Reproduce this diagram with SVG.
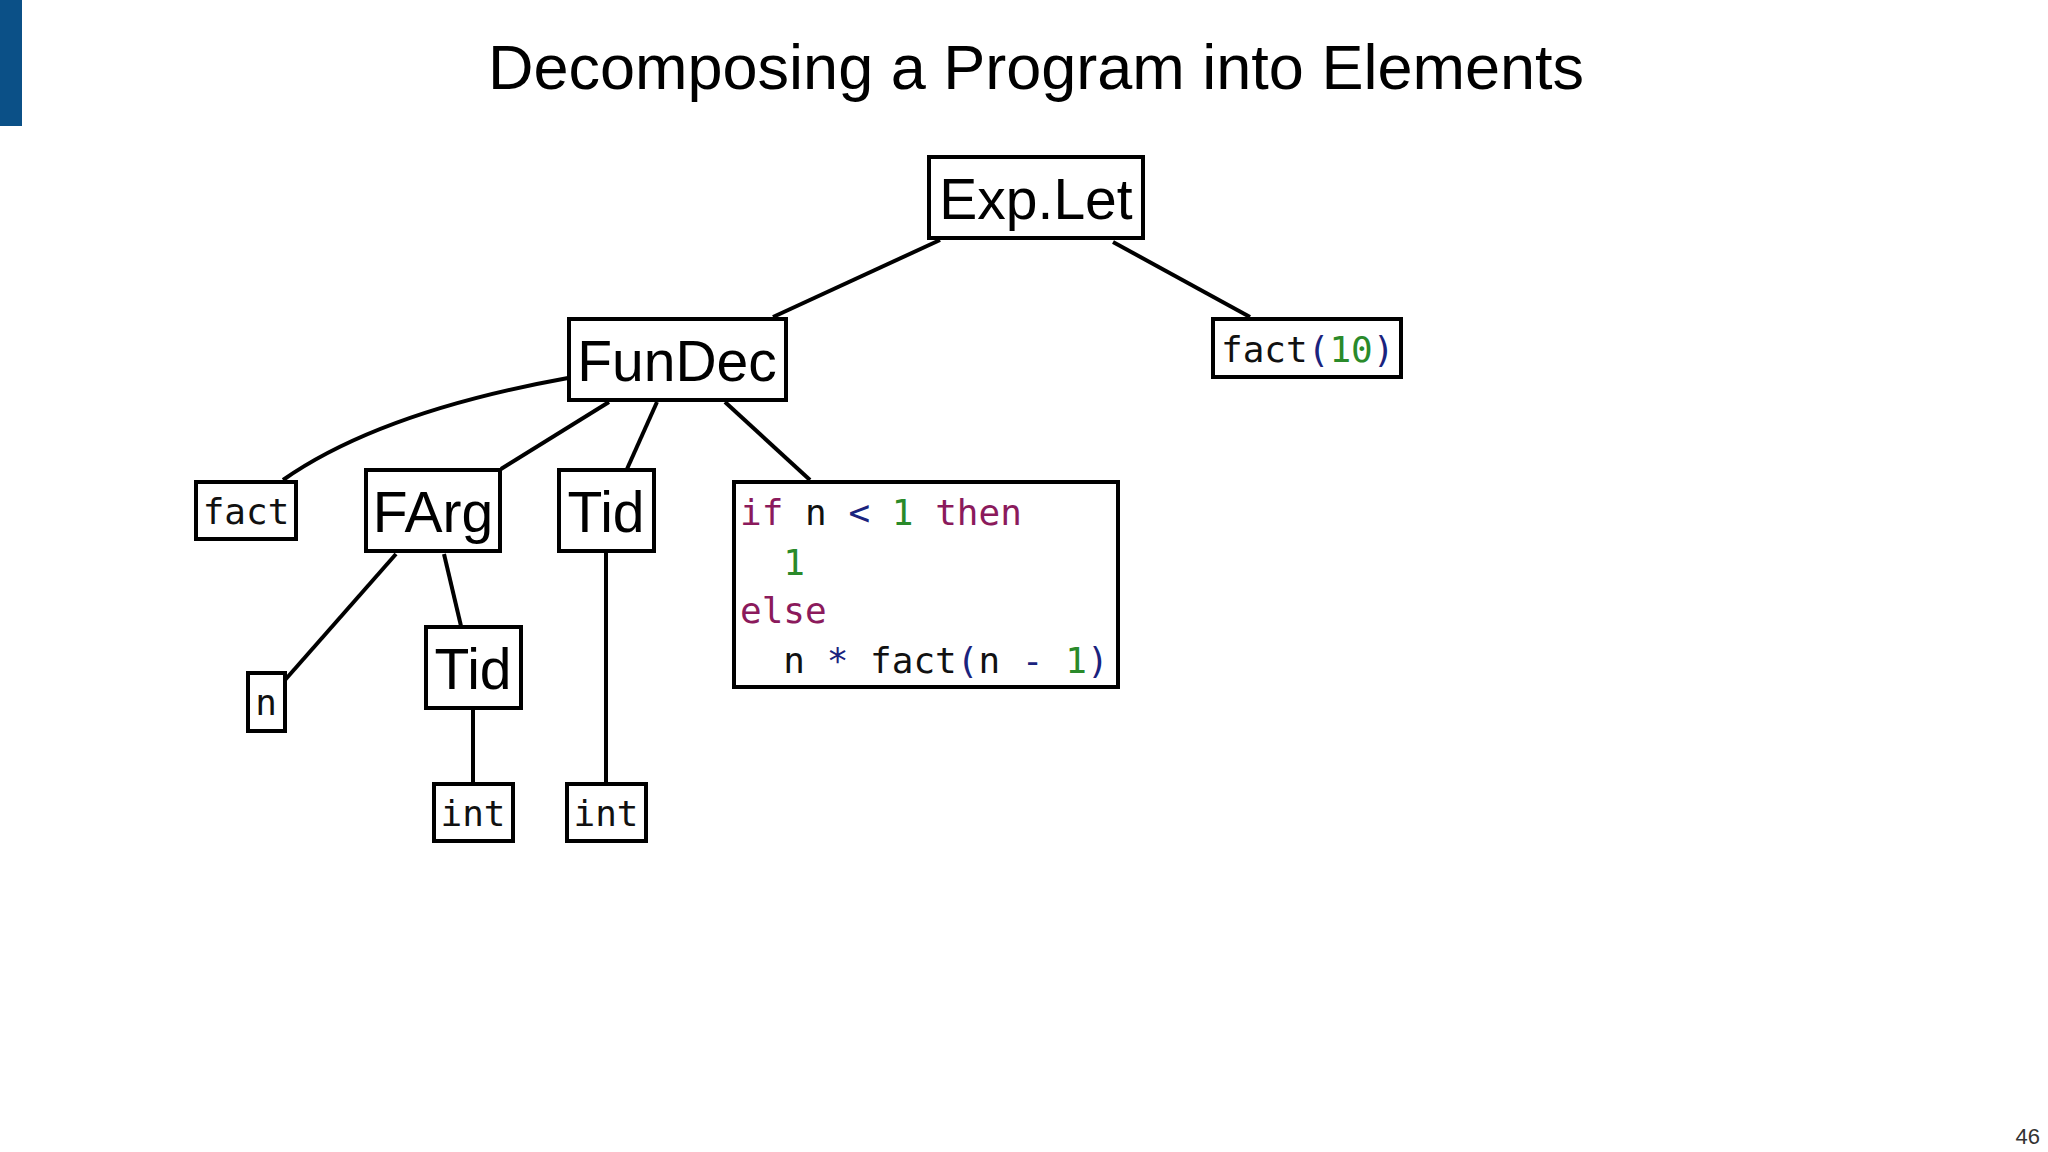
<svg xmlns="http://www.w3.org/2000/svg" width="2048" height="1152" viewBox="0 0 2048 1152">
<style>
.box{fill:#fff;stroke:#000;stroke-width:4}
.big{font-family:"Liberation Sans",Arial,sans-serif;font-size:57px;fill:#000;text-anchor:middle}
.mono{font-family:"DejaVu Sans Mono",monospace;font-size:36px;fill:#111}
.kw{fill:#8b1a5c}.num{fill:#2a8a2a}.op{fill:#1a237e}
.c{stroke:#000;stroke-width:4;fill:none}
</style>
<rect width="2048" height="1152" fill="#fff"/>
<rect x="0" y="0" width="22" height="126" fill="#0b5087"/>
<text x="1036" y="89" font-family="Liberation Sans,Arial,sans-serif" font-size="63" text-anchor="middle">Decomposing a Program into Elements</text>
<text x="2040" y="1144" font-family="Liberation Sans,Arial,sans-serif" font-size="22" text-anchor="end" fill="#333">46</text>
<g id="connectors">
<path class="c" d="M940 240 L773 317"/>
<path class="c" d="M1113 242 L1250 317"/>
<path class="c" d="M568 378 Q380 412 283 480"/>
<path class="c" d="M609 402 L501 469"/>
<path class="c" d="M657 402 L627 469"/>
<path class="c" d="M725 402 L810 480"/>
<path class="c" d="M396 554 L285 680"/>
<path class="c" d="M444 554 L461 626"/>
<path class="c" d="M473 709 L473 783"/>
<path class="c" d="M606 552 L606 783"/>
</g>
<g id="explet"><rect class="box" x="929" y="157" width="214" height="81"/><text class="big" x="1036" y="219">Exp.Let</text></g>
<g id="fundec"><rect class="box" x="569" y="319" width="217" height="81"/><text class="big" x="677" y="381">FunDec</text></g>
<g id="fact10"><rect class="box" x="1213" y="319" width="188" height="58"/><text class="mono" x="1221" y="362">fact<tspan class="op">(</tspan><tspan class="num">10</tspan><tspan class="op">)</tspan></text></g>
<g id="fact"><rect class="box" x="196" y="482" width="100" height="57"/><text class="mono" x="246" y="524" text-anchor="middle">fact</text></g>
<g id="farg"><rect class="box" x="366" y="470" width="134" height="81"/><text class="big" x="433" y="532">FArg</text></g>
<g id="tid1"><rect class="box" x="559" y="470" width="95" height="81"/><text class="big" x="606" y="532">Tid</text></g>
<g id="ifbox"><rect class="box" x="734" y="482" width="384" height="205"/>
<text class="mono" x="740" y="525" xml:space="preserve"><tspan class="kw">if</tspan> n <tspan class="op">&lt;</tspan> <tspan class="num">1</tspan> <tspan class="kw">then</tspan></text>
<text class="mono" x="740" y="575" xml:space="preserve">  <tspan class="num">1</tspan></text>
<text class="mono kw" x="740" y="623">else</text>
<text class="mono" x="740" y="673" xml:space="preserve">  n <tspan class="op">*</tspan> fact<tspan class="op">(</tspan>n <tspan class="op">-</tspan> <tspan class="num">1</tspan><tspan class="op">)</tspan></text></g>
<g id="n"><rect class="box" x="248" y="673" width="37" height="58"/><text class="mono" x="266" y="715" text-anchor="middle">n</text></g>
<g id="tid2"><rect class="box" x="426" y="627" width="95" height="81"/><text class="big" x="473" y="689">Tid</text></g>
<g id="int1"><rect class="box" x="434" y="784" width="79" height="57"/><text class="mono" x="473" y="826" text-anchor="middle">int</text></g>
<g id="int2"><rect class="box" x="567" y="784" width="79" height="57"/><text class="mono" x="606" y="826" text-anchor="middle">int</text></g>
</svg>
